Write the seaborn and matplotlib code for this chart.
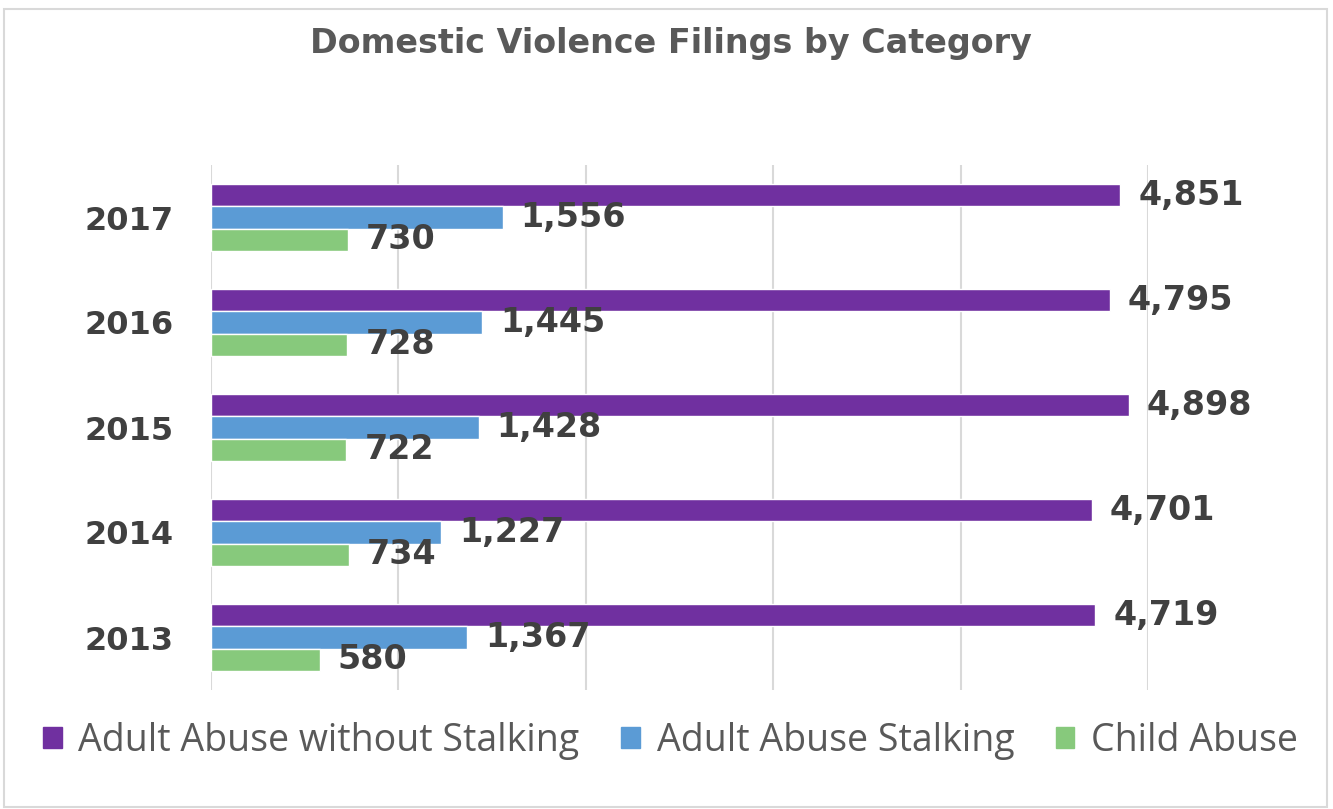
import pandas as pd
import matplotlib.pyplot as plt
import seaborn as sns
from matplotlib.patches import Rectangle

years = ['2017', '2016', '2015', '2014', '2013']
adult_no_stalking = [4851, 4795, 4898, 4701, 4719]
adult_stalking = [1556, 1445, 1428, 1227, 1367]
child_abuse = [730, 728, 722, 734, 580]
series_names = ['Adult Abuse without Stalking', 'Adult Abuse Stalking', 'Child Abuse']
colors = ['#7030A0', '#5B9BD5', '#87C97C']

rows = []
for name, vals in zip(series_names, [adult_no_stalking, adult_stalking, child_abuse]):
    for y, v in zip(years, vals):
        rows.append({'Year': y, 'Filings': v, 'Category': name})
df = pd.DataFrame(rows)

sns.set_style('white')
plt.rcParams['font.family'] = ['DejaVu Sans']

fig = plt.figure(figsize=(13.33, 8.09), dpi=100)
ax = fig.add_axes([211 / 1333, 1 - 690 / 809, (1148 - 211) / 1333, (690 - 165) / 809])

sns.barplot(data=df, x='Filings', y='Year', hue='Category', order=years,
            hue_order=series_names, palette=colors, orient='h', width=0.64,
            saturation=1, ax=ax, legend=False)

ax.set_xlim(0, 5000)
ax.set_xticks(range(0, 5001, 1000))
ax.set_xticklabels([])
ax.grid(axis='x', color='#D9D9D9', linewidth=1.5)
ax.grid(axis='y', visible=False)
ax.set_axisbelow(True)
for s in ax.spines.values():
    s.set_visible(False)
ax.set_xlabel('')
ax.set_ylabel('')
ax.tick_params(axis='x', length=0)
ax.tick_params(axis='y', length=0, pad=27)
for lbl in ax.get_yticklabels():
    lbl.set_fontsize(23)
    lbl.set_fontweight('bold')
    lbl.set_color('#404040')

for cont in ax.containers:
    ax.bar_label(cont, labels=[f'{int(v):,}' for v in cont.datavalues], padding=13,
                 fontsize=24, fontweight='bold', color='#404040', clip_on=False)

fig.text(0.503, 1 - 44 / 809, 'Domestic Violence Filings by Category', ha='center', va='center',
         fontsize=24, fontweight='bold', color='#595959')

handles = [Rectangle((0, 0), 1, 1, color=c) for c in colors]
fig.legend(handles, series_names, loc='center', bbox_to_anchor=(0.503, 1 - 741 / 809), ncol=3,
           frameon=False, prop={'family': 'Open Sans', 'size': 27}, labelcolor='#595959',
           handlelength=0.5, handleheight=0.5, handletextpad=0.45, columnspacing=1.1)

fig.patches.append(Rectangle((4 / 1333, 2 / 809), 1323 / 1333, 798 / 809, transform=fig.transFigure,
                             fill=False, edgecolor='#D9D9D9', linewidth=1.5))

fig.savefig('out.png', dpi=100)
